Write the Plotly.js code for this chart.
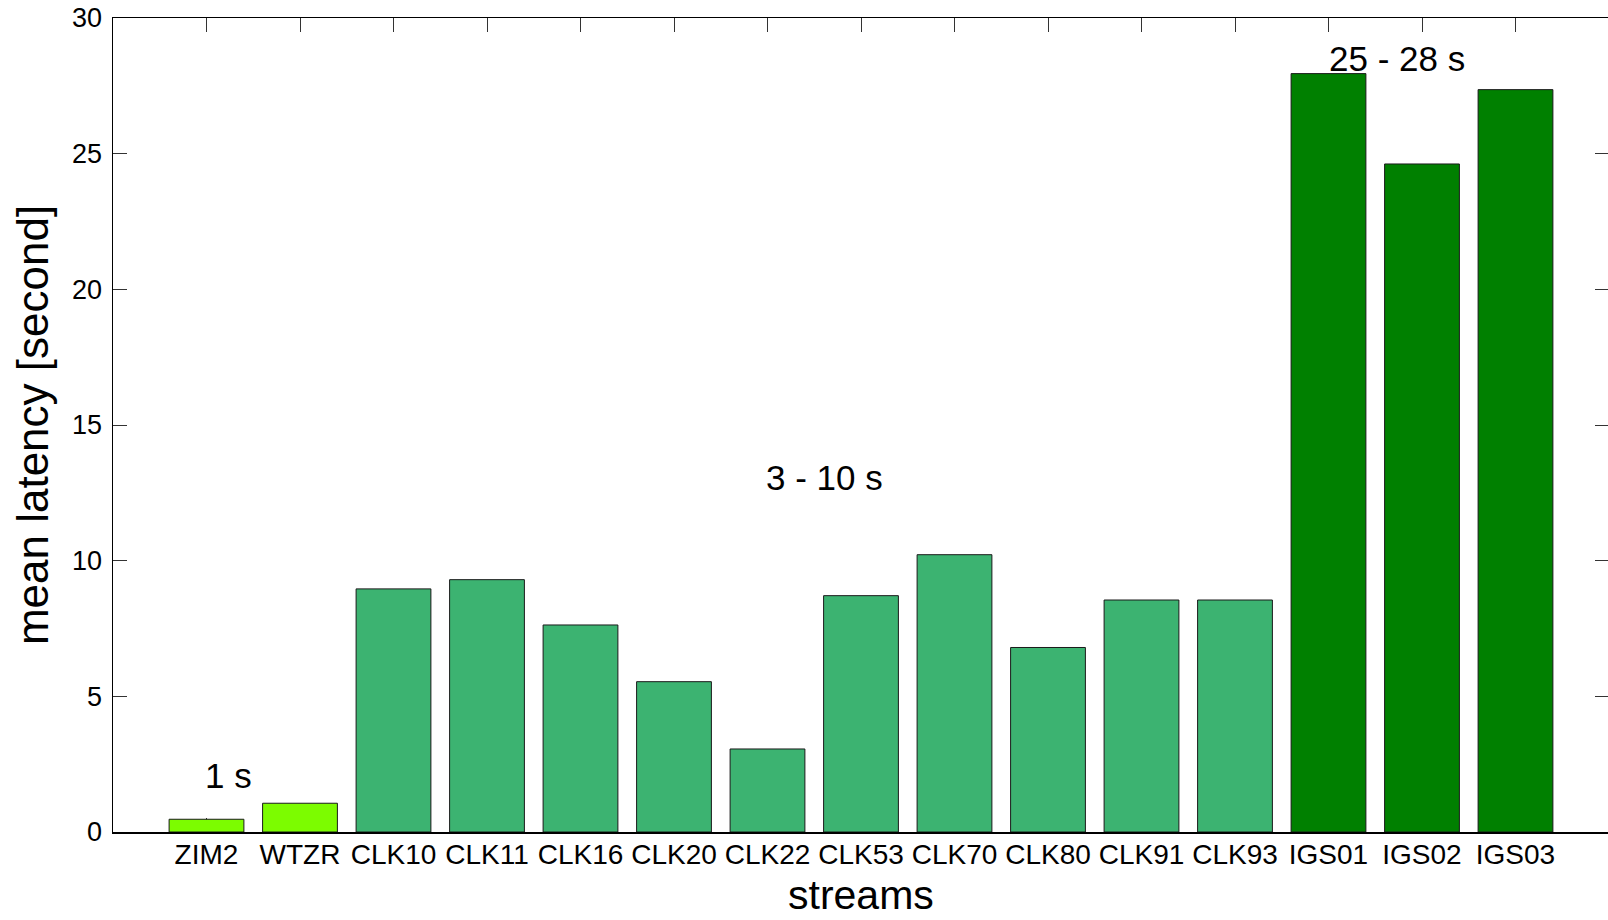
<!DOCTYPE html>
<html>
<head>
<meta charset="utf-8">
<script src="https://cdn.plot.ly/plotly-3.0.1.min.js"></script>
<style>
  html, body { margin: 0; padding: 0; background: #fff; overflow: hidden; }
  #chart { width: 1609px; height: 920px; }
</style>
</head>
<body>
<div id="chart"></div>
<script>
// ---- data ----
const streams = ['ZIM2', 'WTZR', 'CLK10', 'CLK11', 'CLK16', 'CLK20', 'CLK22', 'CLK53',
                 'CLK70', 'CLK80', 'CLK91', 'CLK93', 'IGS01', 'IGS02', 'IGS03'];

const fastStreams = ['ZIM2', 'WTZR'];
const fastLatency = [0.47, 1.06];

const clkStreams = ['CLK10', 'CLK11', 'CLK16', 'CLK20', 'CLK22', 'CLK53', 'CLK70', 'CLK80', 'CLK91', 'CLK93'];
const clkLatency = [8.96, 9.30, 7.63, 5.54, 3.06, 8.71, 10.22, 6.80, 8.55, 8.55];

const igsStreams = ['IGS01', 'IGS02', 'IGS03'];
const igsLatency = [27.95, 24.62, 27.36];

const groupLabels = ['1 s', '3 - 10 s', '25 - 28 s'];
const yTicks = [0, 5, 10, 15, 20, 25, 30];
const xTitle = 'streams';
const yTitle = 'mean latency [second]';

// ---- styles ----
const groupColors = ['#7CFC00', '#3CB371', '#008000'];
const barLine = { color: '#1a1a1a', width: 1 };

function barTrace(x, y, color) {
  return {
    type: 'bar', x: x, y: y, width: 0.8,
    marker: { color: color, line: barLine },
    hoverinfo: 'x+y', showlegend: false
  };
}

const traces = [
  barTrace(fastStreams, fastLatency, groupColors[0]),
  barTrace(clkStreams, clkLatency, groupColors[1]),
  barTrace(igsStreams, igsLatency, groupColors[2])
];

const annFont = { family: 'Liberation Sans, Arial, sans-serif', size: 35, color: '#000' };
const annPos = [[0.24, 2.07], [6.61, 13.05], [12.73, 28.49]];
const annotations = groupLabels.map((t, i) => ({
  text: t, x: annPos[i][0], y: annPos[i][1], xref: 'x', yref: 'y',
  showarrow: false, xanchor: 'center', yanchor: 'middle', font: annFont
}));
// x-axis title as a paper-anchored annotation (so it can sit lower in the margin)
annotations.push({
  text: xTitle, x: 0.5, y: -0.077, xref: 'paper', yref: 'paper',
  showarrow: false, xanchor: 'center', yanchor: 'middle',
  font: { family: 'Liberation Sans, Arial, sans-serif', size: 41, color: '#000' }
});

const layout = {
  width: 1609, height: 920,
  margin: { l: 113, r: 0, t: 18, b: 88 },
  paper_bgcolor: '#fff', plot_bgcolor: '#fff',
  barmode: 'overlay',
  font: { family: 'Liberation Sans, Arial, sans-serif', color: '#000' },
  xaxis: {
    type: 'category', categoryorder: 'array', categoryarray: streams,
    range: [-1, 15],
    showline: true, linecolor: '#000', linewidth: 1.5, mirror: 'ticks',
    ticks: 'inside', ticklen: 14, tickwidth: 1, tickcolor: '#333',
    showgrid: false, zeroline: false, layer: 'below traces',
    tickfont: { size: 28, color: '#000' },
    ticklabelstandoff: -3,
    automargin: false, fixedrange: true
  },
  yaxis: {
    range: [0, 30], tickvals: yTicks, ticktext: yTicks.map(String),
    showline: true, linecolor: '#000', linewidth: 1.5, mirror: 'ticks',
    ticks: 'inside', ticklen: 14, tickwidth: 1, tickcolor: '#333',
    showgrid: false, zeroline: false, layer: 'below traces',
    tickfont: { size: 27, color: '#000' },
    ticklabelstandoff: 4,
    title: { text: yTitle, font: { size: 44, color: '#000' }, standoff: 9 },
    automargin: false, fixedrange: true
  },
  annotations: annotations,
  showlegend: false
};

Plotly.newPlot('chart', traces, layout, { displayModeBar: false, staticPlot: true });
</script>
</body>
</html>
